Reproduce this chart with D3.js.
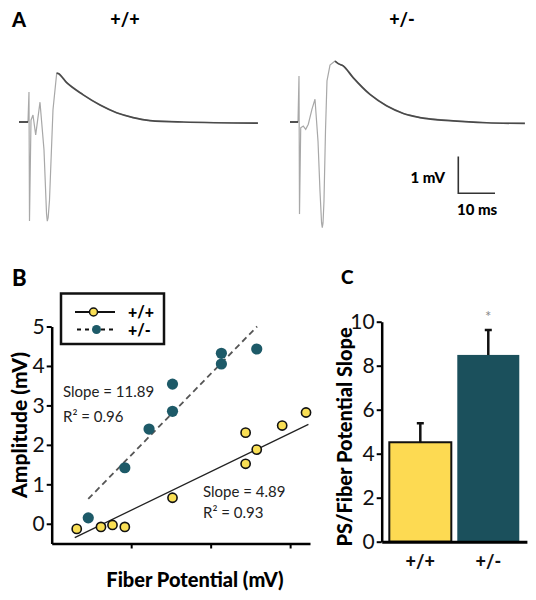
<!DOCTYPE html>
<html><head><meta charset="utf-8">
<script src="https://cdn.jsdelivr.net/npm/d3@7"></script>
<style>body{margin:0;background:#fff}svg{display:block}text{font-family:Lato,"Open Sans",sans-serif}</style>
</head><body><svg id="c" width="536" height="600"></svg>
<script>
// ---------- Panel A: traces (ms, mV) ----------
const wtTraceT = [0,2.45,2.72,2.86,3.27,3.81,4.55,5.72,6.81,7.5,7.71,7.95,8.31,9.26,10.27,10.71,13.0,17.5,22.1,26.6,31.1,35.7,44.7,65.1];
const wtTraceV = [0,0,0.82,-2.70,0.05,0.19,-0.35,0.54,-0.76,-2.5,-2.70,-2.6,-2.13,0.33,1.33,1.32,1.07,0.74,0.46,0.25,0.12,0.04,0,-0.03];
const wtPeakIndex = 14;
const hetTraceT = [0,2.18,2.45,2.59,2.92,3.62,4.28,4.99,5.99,6.81,7.63,8.17,8.6,8.80,9.0,9.26,9.67,10.08,10.9,12.26,13.16,14.5,17.2,21.8,26.3,30.9,35.4,44.5,53.6,64.0];
const hetTraceV = [0,0,1.25,-2.51,-0.16,-0.11,-0.2,-0.06,0.35,0.62,-0.52,-1.88,-2.75,-2.88,-2.75,-2.15,-0.25,1.12,1.55,1.66,1.59,1.53,1.21,0.75,0.44,0.23,0.12,0.03,-0.02,-0.04];
const hetPeakIndex = 19;
const traceTitles = ["+/+","+/-"];
const scaleBarMs = 10, scaleBarMv = 1;

// ---------- Panel B: scatter ----------
const wtFiber = [0.063,0.124,0.153,0.184,0.304,0.488,0.488,0.516,0.580,0.640];
const wtAmp   = [-0.13,-0.08,-0.03,-0.08,0.66,1.52,2.31,1.88,2.49,2.82];
const hetFiber = [0.092,0.184,0.245,0.304,0.304,0.427,0.427,0.516];
const hetAmp   = [0.15,1.42,2.40,2.85,3.54,4.05,4.32,4.43];
const wtFitX = [0.058,0.646], wtFitY = [-0.35,2.52];
const hetFitX = [0.092,0.517], hetFitY = [0.63,5.0];
const ampTicks = [0,1,2,3,4,5];
const fiberTicks = [0.2,0.4,0.6];
const wtFitText = ["Slope = 4.89","R² = 0.93"];
const hetFitText = ["Slope = 11.89","R² = 0.96"];

// ---------- Panel C: bars ----------
const genotypes = ["+/+","+/-"];
const slopeMeans = [4.52,8.49];
const slopeSEM = [0.86,1.13];
const slopeTicks = [0,2,4,6,8,10];

const YEL = "#f9df55", TEAL = "#1d5a68", BARYEL = "#fdda52", BARTEAL = "#1b505c";
const svg = d3.select("#c");

// ===== Panel A =====
svg.append("text").attr("x",12).attr("y",27).attr("font-size",20).attr("font-weight",900).text("A");
const traceY = d3.scaleLinear().domain([0,1]).range([122,85.3]);
function drawTrace(T,V,peak,x0,title,titleX){
  const x = d3.scaleLinear().domain([0,10]).range([x0,x0+36.7]);
  const pts = T.map((t,i)=>[t,V[i]]);
  const line = d3.line().x(d=>x(d[0])).y(d=>traceY(d[1]));
  svg.append("path").attr("d",line(pts)).attr("fill","none").attr("stroke","#a8a8a8").attr("stroke-width",1.2);
  svg.append("path").attr("d",line.curve(d3.curveMonotoneX)(pts.slice(peak))).attr("fill","none").attr("stroke","#4a4a4a").attr("stroke-width",1.7);
  svg.append("path").attr("d",d3.line().x(d=>x(d[0])).y(d=>traceY(d[1]))(pts.slice(0,2))).attr("fill","none").attr("stroke","#333").attr("stroke-width",1.6);
  svg.append("text").attr("x",titleX).attr("y",26).attr("text-anchor","middle").attr("font-size",18).attr("font-weight",900).text(title);
  return x;
}
drawTrace(wtTraceT,wtTraceV,wtPeakIndex,19,traceTitles[0],125);
const xh = drawTrace(hetTraceT,hetTraceV,hetPeakIndex,290,traceTitles[1],402);
// scale bar
const sbX = d3.scaleLinear().domain([0,10]).range([458.3,495]);
const sbY = d3.scaleLinear().domain([0,1]).range([193.3,156.6]);
svg.append("path").attr("d",`M${sbX(0)},${sbY(scaleBarMv)}V${sbY(0)}H${sbX(scaleBarMs)}`).attr("fill","none").attr("stroke","#333").attr("stroke-width",1.6);
svg.append("text").attr("x",445).attr("y",183).attr("text-anchor","end").attr("font-size",15).attr("font-weight",900).text(scaleBarMv+" mV");
svg.append("text").attr("x",457).attr("y",215).attr("font-size",15).attr("font-weight",900).text(scaleBarMs+" ms");

// ===== Panel B =====
svg.append("text").attr("x",12).attr("y",286).attr("font-size",22).attr("font-weight",900).text("B");
const bx = d3.scaleLinear().domain([0,0.65]).range([51.7,310]);
const by = d3.scaleLinear().domain([-0.5,5]).range([543.5,326.5]);
const gB = svg.append("g");
gB.append("g").attr("transform","translate(51.7,0)")
  .call(d3.axisLeft(by).tickValues(ampTicks).tickFormat(d3.format("d")).tickSize(5).tickSizeOuter(0).tickPadding(2))
  .call(g=>{g.select(".domain").attr("stroke-width",2.5);g.selectAll(".tick line").attr("stroke-width",2);
    g.selectAll("text").attr("font-size",21).attr("font-family","Lato").attr("fill","#111");});
gB.append("g").attr("transform","translate(0,543.5)")
  .call(d3.axisBottom(bx).tickValues(fiberTicks).tickFormat("").tickSize(5).tickSizeOuter(0))
  .call(g=>{g.select(".domain").attr("stroke-width",2.5);g.selectAll(".tick line").attr("stroke-width",2);});
// fit lines
gB.append("line").attr("x1",bx(wtFitX[0])).attr("y1",by(wtFitY[0])).attr("x2",bx(wtFitX[1])).attr("y2",by(wtFitY[1]))
  .attr("stroke","#222").attr("stroke-width",1.3);
gB.append("line").attr("x1",bx(hetFitX[0])).attr("y1",by(hetFitY[0])).attr("x2",bx(hetFitX[1])).attr("y2",by(hetFitY[1]))
  .attr("stroke","#555").attr("stroke-width",1.8).attr("stroke-dasharray","6,4");
// points
gB.selectAll(".het").data(hetFiber.map((f,i)=>[f,hetAmp[i]])).join("circle")
  .attr("cx",d=>bx(d[0])).attr("cy",d=>by(d[1])).attr("r",5.6).attr("fill",TEAL);
gB.selectAll(".wt").data(wtFiber.map((f,i)=>[f,wtAmp[i]])).join("circle")
  .attr("cx",d=>bx(d[0])).attr("cy",d=>by(d[1])).attr("r",4.6).attr("fill",YEL).attr("stroke","#111").attr("stroke-width",1.6);
// annotations
hetFitText.forEach((t,i)=>gB.append("text").attr("x",63).attr("y",397+i*25).attr("font-size",15).attr("fill","#222").text(t));
wtFitText.forEach((t,i)=>gB.append("text").attr("x",203).attr("y",497+i*21).attr("font-size",15).attr("fill","#222").text(t));
// legend
gB.append("rect").attr("x",61).attr("y",293.5).attr("width",103).attr("height",50.5).attr("fill","#fff").attr("stroke","#111").attr("stroke-width",2.5);
gB.append("line").attr("x1",75).attr("x2",115).attr("y1",312).attr("y2",312).attr("stroke","#111").attr("stroke-width",2);
gB.append("circle").attr("cx",93.5).attr("cy",312).attr("r",4).attr("fill",YEL).attr("stroke","#111").attr("stroke-width",1.5);
gB.append("line").attr("x1",77).attr("x2",115).attr("y1",329.5).attr("y2",329.5).attr("stroke","#111").attr("stroke-width",2).attr("stroke-dasharray","4,4");
gB.append("circle").attr("cx",96.5).attr("cy",329.5).attr("r",4.5).attr("fill",TEAL);
traceTitles.forEach((t,i)=>gB.append("text").attr("x",128).attr("y",318+i*17.5).attr("font-size",16).attr("font-weight",900).text(t));
// axis titles
svg.append("text").attr("transform","translate(27,425) rotate(-90)").attr("text-anchor","middle").attr("font-size",21).attr("font-weight",900).text("Amplitude (mV)");
svg.append("text").attr("x",195).attr("y",587).attr("text-anchor","middle").attr("font-size",20).attr("font-weight",900).text("Fiber Potential (mV)");

// ===== Panel C =====
svg.append("text").attr("x",341).attr("y",284).attr("font-size",19).attr("font-weight",900).text("C");
const cx = d3.scaleBand().domain(genotypes).range([381.7,526.9]).paddingInner(0.088).paddingOuter(0.112);
const cy = d3.scaleLinear().domain([0,10]).range([541.7,321.7]);
const gC = svg.append("g");
gC.selectAll("rect.bar").data(genotypes).join("rect")
  .attr("x",d=>cx(d)).attr("width",cx.bandwidth()).attr("y",(d,i)=>cy(slopeMeans[i])).attr("height",(d,i)=>cy(0)-cy(slopeMeans[i]))
  .attr("fill",(d,i)=>i===0?BARYEL:BARTEAL).attr("stroke",(d,i)=>i===0?"#111":"none").attr("stroke-width",2);
gC.selectAll("path.err").data(genotypes).join("path")
  .attr("d",(d,i)=>{const xm=cx(d)+cx.bandwidth()/2, y0=cy(slopeMeans[i]), y1=cy(slopeMeans[i]+slopeSEM[i]);
    return `M${xm},${y0}V${y1}M${xm-3.5},${y1}H${xm+3.5}`;})
  .attr("fill","none").attr("stroke","#111").attr("stroke-width",2.5);
gC.append("g").attr("transform","translate(381.7,0)")
  .call(d3.axisLeft(cy).tickValues(slopeTicks).tickFormat(d3.format("d")).tickSize(5).tickSizeOuter(0).tickPadding(2))
  .call(g=>{g.select(".domain").attr("stroke-width",2.5);g.selectAll(".tick line").attr("stroke-width",2);
    g.selectAll("text").attr("font-size",21).attr("font-family","Lato").attr("fill","#111");});
gC.append("g").attr("transform","translate(0,541.7)")
  .call(d3.axisBottom(cx).tickSize(0).tickSizeOuter(0).tickPadding(14))
  .call(g=>{g.select(".domain").attr("stroke-width",3);
    g.selectAll("text").attr("font-size",18).attr("font-weight",900).attr("font-family","Lato").attr("fill","#111");});
gC.append("text").attr("x",cx(genotypes[1])+cx.bandwidth()/2).attr("y",322).attr("text-anchor","middle").attr("font-size",15).attr("fill","#888").text("*");
svg.append("text").attr("transform","translate(352,437) rotate(-90)").attr("text-anchor","middle").attr("font-size",20).attr("font-weight",900).text("PS/Fiber Potential Slope");
</script></body></html>
